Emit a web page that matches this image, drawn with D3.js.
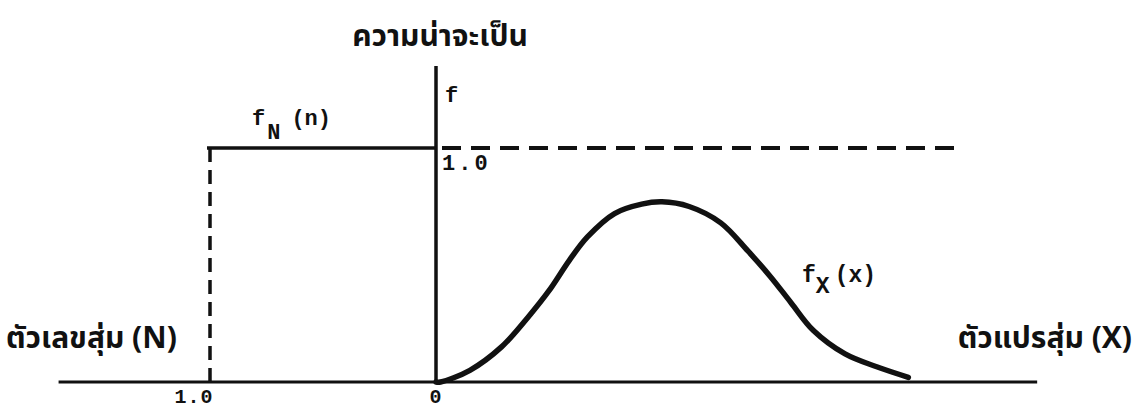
<!DOCTYPE html>
<html>
<head>
<meta charset="utf-8">
<script src="https://cdn.jsdelivr.net/npm/d3@7"></script>
<style>
  body { margin: 0; background: #fff; }
  text { fill: #111; }
</style>
</head>
<body>
<div id="chart"></div>
<script>
// random number N: uniform step f_N(n) = 1.0 over [-1, 0]
const stepN = [-1.0, 0]
const stepValue = 1.0

// random variable X: density curve f_X(x)
const curveX = [0.00, 0.02, 0.15, 0.29, 0.41, 0.50, 0.59, 0.67, 0.79, 0.91, 1.00, 1.12, 1.26, 1.38, 1.48, 1.57, 1.67, 1.81, 1.95, 2.09]
const curveF = [0.00, 0.00, 0.05, 0.15, 0.28, 0.39, 0.52, 0.62, 0.72, 0.76, 0.77, 0.75, 0.68, 0.56, 0.45, 0.34, 0.22, 0.12, 0.065, 0.02]

// axis extents and tick labels
const xExtent = [-1.67, 2.66]
const fTop = 1.35
const dashEnd = 2.30
const xTicks = [-1.0, 0]
const xTickLabels = ["1.0", "0"]

const width = 1147
const height = 411

const svg = d3.select("#chart")
  .append("svg")
  .attr("width", width)
  .attr("height", height)

const x = d3.scaleLinear()
  .domain([-1, 0])
  .range([210, 436])

const y = d3.scaleLinear()
  .domain([0, 1])
  .range([382, 148])

const thai = "'Noto Sans Thai', 'Loma', 'Garuda', 'Norasi', sans-serif"
const mono = "'Courier New', 'Liberation Mono', 'DejaVu Sans Mono', monospace"

// BASELINE (horizontal axis)
svg.append("line")
  .attr("x1", x(xExtent[0])).attr("x2", x(xExtent[1]))
  .attr("y1", y(0)).attr("y2", y(0))
  .attr("stroke", "#111")
  .attr("stroke-width", 3)

// VERTICAL AXIS f
svg.append("line")
  .attr("x1", x(0)).attr("x2", x(0))
  .attr("y1", y(0)).attr("y2", y(fTop))
  .attr("stroke", "#111")
  .attr("stroke-width", 3.5)

// f_N(n) solid top
svg.append("line")
  .attr("x1", x(stepN[0]) - 3).attr("x2", x(stepN[1]))
  .attr("y1", y(stepValue)).attr("y2", y(stepValue))
  .attr("stroke", "#111")
  .attr("stroke-width", 3.5)

// dashed drop at n = -1
svg.append("line")
  .attr("x1", x(stepN[0])).attr("x2", x(stepN[0]))
  .attr("y1", y(stepValue)).attr("y2", y(0))
  .attr("stroke", "#111")
  .attr("stroke-width", 3.5)
  .attr("stroke-dasharray", "14,8")

// dashed f = 1.0 reference to the right
svg.append("line")
  .attr("x1", x(0) + 6).attr("x2", x(dashEnd))
  .attr("y1", y(stepValue)).attr("y2", y(stepValue))
  .attr("stroke", "#111")
  .attr("stroke-width", 4)
  .attr("stroke-dasharray", "19,10")

// f_X(x) curve
const line = d3.line()
  .x((d, i) => x(d))
  .y((d, i) => y(curveF[i]))
  .curve(d3.curveCatmullRom)

svg.append("path")
  .datum(curveX)
  .attr("d", line)
  .attr("fill", "none")
  .attr("stroke", "#111")
  .attr("stroke-width", 5.5)
  .attr("stroke-linecap", "round")

// TICK LABELS under baseline
svg.selectAll(".xtick")
  .data(xTicks)
  .enter()
  .append("text")
  .attr("x", d => d === 0 ? x(d) : x(d) - 16)
  .attr("y", 403)
  .attr("text-anchor", "middle")
  .style("font-family", mono)
  .style("font-weight", "bold")
  .style("font-size", "20px")
  .style("letter-spacing", "1px")
  .text((d, i) => xTickLabels[i])

// 1.0 label on the f axis
svg.append("text")
  .attr("x", x(0) + 6)
  .attr("y", y(stepValue) + 22)
  .style("font-family", mono)
  .style("font-weight", "bold")
  .style("font-size", "22px")
  .style("letter-spacing", "3px")
  .text("1.0")

// f label
svg.append("text")
  .attr("x", x(0) + 9)
  .attr("y", 102)
  .style("font-family", mono)
  .style("font-weight", "bold")
  .style("font-size", "22px")
  .text("f")

// title of vertical axis
svg.append("text")
  .attr("x", 440)
  .attr("y", 46)
  .attr("text-anchor", "middle")
  .style("font-family", thai)
  .style("font-weight", "bold")
  .style("font-size", "30px")
  .text("ความน่าจะเป็น")

// f_N(n)
const fN = svg.append("text")
  .attr("x", 252)
  .attr("y", 125)
  .style("font-family", mono)
  .style("font-weight", "bold")
  .style("font-size", "22px")
fN.append("tspan").text("f")
fN.append("tspan").attr("dy", 14).attr("dx", 2).text("N")
fN.append("tspan").attr("dy", -14).attr("dx", 11).text("(n)")

// f_X(x)
const fX = svg.append("text")
  .attr("x", 802)
  .attr("y", 282)
  .style("font-family", mono)
  .style("font-weight", "bold")
  .style("font-size", "23px")
fX.append("tspan").text("f")
fX.append("tspan").attr("dy", 11).attr("dx", 0).text("X")
fX.append("tspan").attr("dy", -11).attr("dx", 5).text("(x)")

// axis names
svg.append("text")
  .attr("x", 6)
  .attr("y", 348)
  .style("font-family", thai)
  .style("font-weight", "bold")
  .style("font-size", "30px")
  .style("white-space", "pre")
  .text("ตัวเลขสุ่ม (N)")

svg.append("text")
  .attr("x", 1132)
  .attr("y", 348)
  .attr("text-anchor", "end")
  .style("font-family", thai)
  .style("font-weight", "bold")
  .style("font-size", "30px")
  .style("white-space", "pre")
  .text("ตัวแปรสุ่ม (X)")
</script>
</body>
</html>
